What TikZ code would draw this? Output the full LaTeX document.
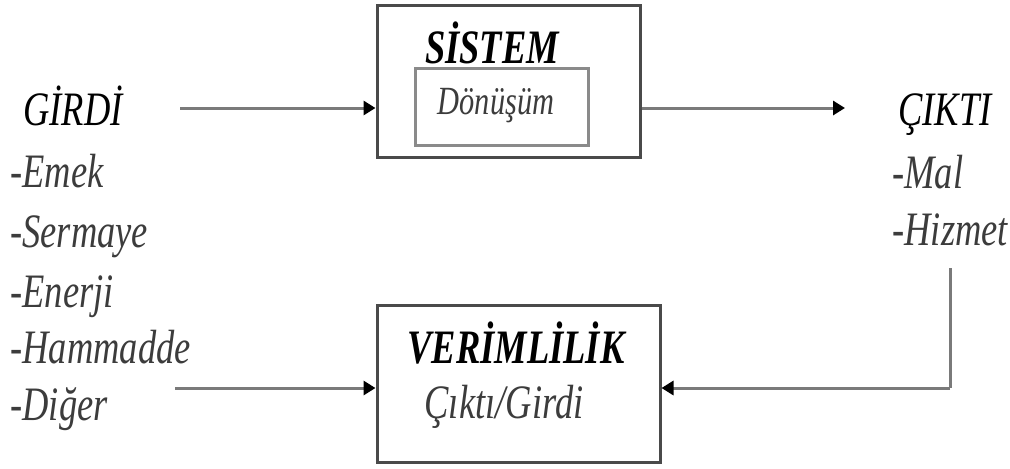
\documentclass[tikz,border=0pt]{standalone}
\usepackage{fontspec}
\setmainfont{Liberation Serif}[FakeStretch=0.76]
\usetikzlibrary{arrows.meta}
\definecolor{boxline}{HTML}{4A4A4A}
\definecolor{innerline}{HTML}{8A8A8A}
\definecolor{conn}{HTML}{7A7A7A}
\definecolor{itemtxt}{HTML}{3C3C3C}
\tikzset{
  box/.style={draw=boxline, line width=1.5pt, rectangle, inner sep=0pt},
  innerbox/.style={draw=innerline, line width=1.5pt, rectangle, inner sep=0pt},
  arr/.style={draw=conn, line width=1.5pt, -{Triangle[length=6pt,width=7pt,color=black]}},
  fbline/.style={draw=conn, line width=1.5pt},
  head/.style={font=\fontsize{24}{27}\selectfont\itshape, text=black, inner sep=0pt},
  bhead/.style={font=\fontsize{24}{27}\selectfont\bfseries\itshape, text=black, inner sep=0pt},
  item/.style={font=\fontsize{24}{27}\selectfont\itshape, text=itemtxt, inner sep=0pt, anchor=base west},
  inner/.style={font=\fontsize{20}{23}\selectfont\itshape, text=itemtxt, inner sep=0pt, anchor=base},
}
\begin{document}
\begin{tikzpicture}[x=0.5pt,y=-0.5pt]
\useasboundingbox[fill=white] (0,0) rectangle (1010,468);
% boxes
\node[box, minimum width=131.5pt, minimum height=76pt] (sys) at (508.5,81) {};
\node[innerbox, minimum width=86.5pt, minimum height=38.5pt] (dbox) at (501.5,107) {};
\node[box, minimum width=141.5pt, minimum height=78.5pt] (ver) at (518.5,383.5) {};
% box texts
\node[bhead, anchor=base] (systxt) at (492,63) {SİSTEM};
\node[inner] (dtxt) at (496,114) {Dönüşüm};
\node[bhead, anchor=base] (vertxt) at (516,363) {VERİMLİLİK};
\node[head, anchor=base, text=itemtxt] (oran) at (504,418) {Çıktı/Girdi};
% left texts
\node[head, anchor=base west] (girdi) at (23,125) {GİRDİ};
\node[item] (emek) at (10,187) {-Emek};
\node[item] (sermaye) at (10,247) {-Sermaye};
\node[item] (enerji) at (10,307) {-Enerji};
\node[item] (hammadde) at (10,363) {-Hammadde};
\node[item] (diger) at (10,420) {-Diğer};
% right texts
\node[head, anchor=base west] (cikti) at (898,125) {ÇIKTI};
\node[item] (mal) at (892,188) {-Mal};
\node[item] (hizmet) at (892,245) {-Hizmet};
% connectors
\coordinate (a1) at (180,108);
\coordinate (a2) at (845,108);
\coordinate (f1) at (950,268);
\coordinate (f2) at (950,388);
\coordinate (b1) at (175,388);
\draw[arr] (a1) -- (a1 -| sys.west);
\draw[arr] (sys.east |- a2) -- (a2);
\draw[fbline] (f1) -- (f2);
\draw[arr] (f2) -- (f2 -| ver.east);
\draw[arr] (b1) -- (b1 -| ver.west);
\end{tikzpicture}
\end{document}
